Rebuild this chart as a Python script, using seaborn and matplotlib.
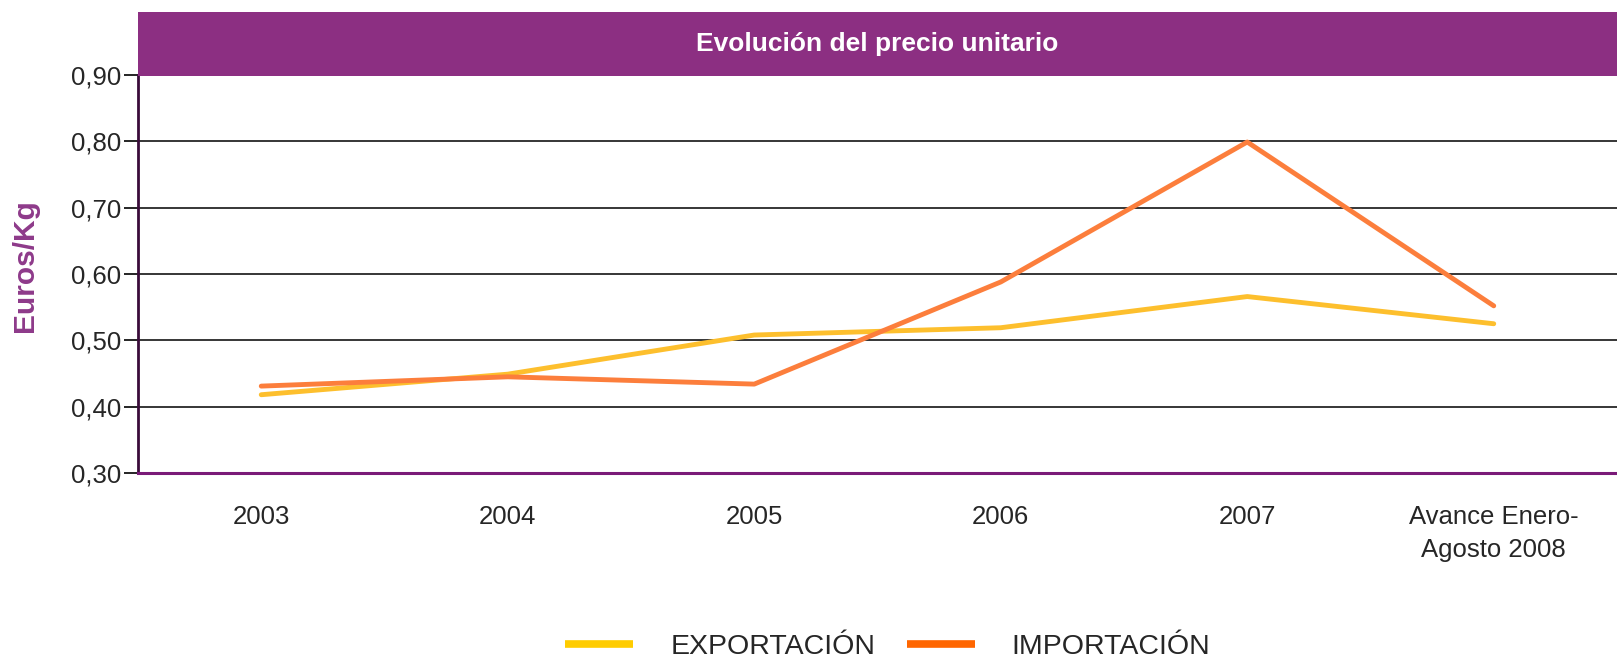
import numpy as np
import pandas as pd
import seaborn as sns
from matplotlib import pyplot as plt
from matplotlib.lines import Line2D

categories = ['2003', '2004', '2005', '2006', '2007', 'Avance Enero-\nAgosto 2008']
exportacion = [0.418, 0.449, 0.508, 0.519, 0.566, 0.525]
importacion = [0.431, 0.445, 0.434, 0.588, 0.799, 0.552]
series_names = ['EXPORTACIÓN', 'IMPORTACIÓN']
y_ticks = [0.30, 0.40, 0.50, 0.60, 0.70, 0.80, 0.90]

line_colors = ['#FDBF2D', '#FC7E3C']
legend_colors = ['#FFCC00', '#FF6600']
purple = '#8C2F82'

df = pd.DataFrame({
    'categoria': categories * 2,
    'valor': exportacion + importacion,
    'serie': [series_names[0]] * len(categories) + [series_names[1]] * len(categories),
})

sns.set_style('white')
plt.rcParams['font.family'] = ['Liberation Sans', 'DejaVu Sans']

fig = plt.figure(figsize=(16.17, 6.64), dpi=100)
ax = fig.add_axes([138 / 1617, 1 - 473 / 664, 1 - 138 / 1617, 398 / 664])

sns.lineplot(df, x='categoria', y='valor', hue='serie', palette=line_colors,
             linewidth=3.5, ax=ax, legend=False, sort=False)

ax.set_xlim(-0.5, len(categories) - 0.5)
ax.set_ylim(0.30, 0.90)
ax.set_yticks(y_ticks)
ax.set_yticklabels([f'{v:.2f}'.replace('.', ',') for v in y_ticks], fontsize=18.5)
ax.set_xticks(range(len(categories)))
ax.set_xticklabels(categories, fontsize=18.5, linespacing=1.5)
ax.set_xticks(np.arange(-0.5, len(categories), 1.0), minor=True)
ax.tick_params(axis='x', which='major', length=0, pad=23)
ax.tick_params(axis='x', which='minor', length=8, color='#555555', width=1.2, direction='out')
ax.tick_params(axis='y', length=10, width=1.2, color='black', direction='out', pad=2, left=True)
ax.set_xlabel('')
ax.set_ylabel('Euros/Kg', fontsize=21.5, fontweight='bold', color='#8E3A8A')
ax.yaxis.set_label_coords(-0.067, 0.52)

for v in y_ticks[1:-1]:
    ax.axhline(v, color='black', linewidth=1.1, zorder=0)

for side in ['top', 'right']:
    ax.spines[side].set_visible(False)
ax.spines['left'].set_color('#3A0C3A')
ax.spines['left'].set_linewidth(2)
ax.spines['bottom'].set_color('#7A1A78')
ax.spines['bottom'].set_linewidth(2.2)

# barra del título
bar = fig.add_axes([138 / 1617, 1 - 76 / 664, 1 - 138 / 1617, 64 / 664])
bar.set_facecolor(purple)
bar.set_xticks([])
bar.set_yticks([])
for s in bar.spines.values():
    s.set_visible(False)
bar.text(0.5, 0.5, 'Evolución del precio unitario', color='white', fontsize=19,
         fontweight='bold', ha='center', va='center', transform=bar.transAxes,
         family=['Liberation Sans Narrow', 'Liberation Sans', 'DejaVu Sans'])

handles = [Line2D([0], [0], color=c, linewidth=5.5, solid_capstyle='butt') for c in legend_colors]
fig.legend(handles, series_names, loc='center', bbox_to_anchor=(0.549, 0.026),
           ncol=2, frameon=False, fontsize=20.5, handlelength=2.4, handletextpad=1.3,
           columnspacing=1.1, borderpad=0.1)

fig.savefig('out.png', dpi=100)
plt.close(fig)
